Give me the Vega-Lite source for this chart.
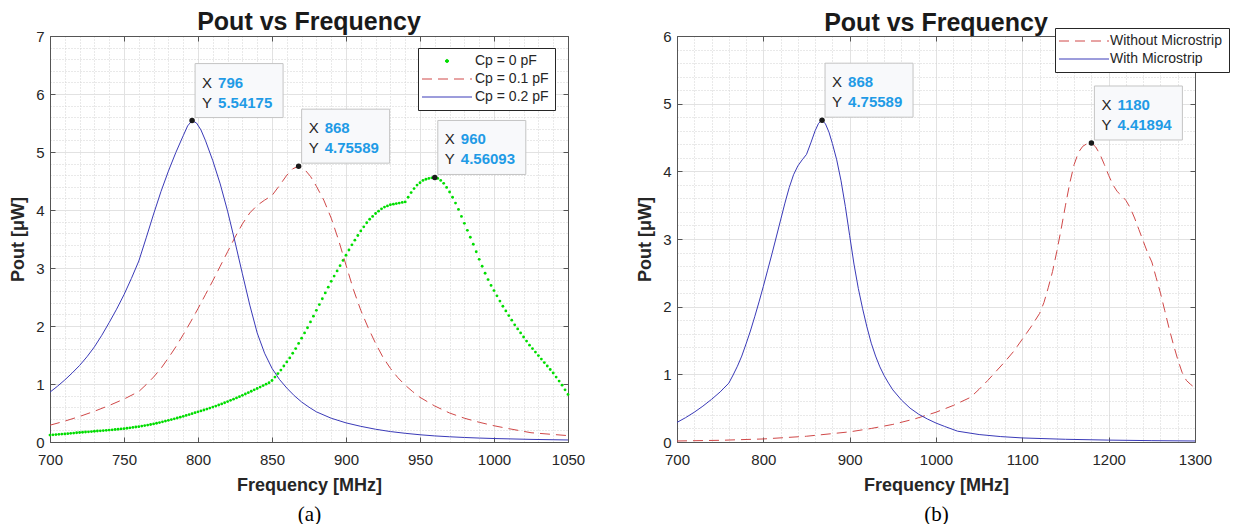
{
"$schema": "https://vega.github.io/schema/vega-lite/v6.json",
"background": "white",
"padding": {"left": 9, "top": 10, "right": 0, "bottom": 0},
"config": {"view": {"stroke": null}, "font": "Liberation Sans"},
"datasets": {
"a0": [{"f":700,"p":0.120},{"f":702,"p":0.124},{"f":704,"p":0.128},{"f":706,"p":0.132},{"f":708,"p":0.136},{"f":710,"p":0.140},{"f":712,"p":0.144},{"f":714,"p":0.149},{"f":716,"p":0.154},{"f":718,"p":0.159},{"f":720,"p":0.164},{"f":722,"p":0.168},{"f":724,"p":0.172},{"f":726,"p":0.176},{"f":728,"p":0.180},{"f":730,"p":0.185},{"f":732,"p":0.189},{"f":734,"p":0.193},{"f":736,"p":0.197},{"f":738,"p":0.201},{"f":740,"p":0.205},{"f":742,"p":0.210},{"f":744,"p":0.215},{"f":746,"p":0.220},{"f":748,"p":0.225},{"f":750,"p":0.230},{"f":752,"p":0.237},{"f":754,"p":0.244},{"f":756,"p":0.251},{"f":758,"p":0.258},{"f":760,"p":0.265},{"f":762,"p":0.274},{"f":764,"p":0.283},{"f":766,"p":0.292},{"f":768,"p":0.302},{"f":770,"p":0.312},{"f":772,"p":0.323},{"f":774,"p":0.335},{"f":776,"p":0.347},{"f":778,"p":0.360},{"f":780,"p":0.373},{"f":782,"p":0.386},{"f":784,"p":0.400},{"f":786,"p":0.414},{"f":788,"p":0.428},{"f":790,"p":0.443},{"f":792,"p":0.458},{"f":794,"p":0.473},{"f":796,"p":0.489},{"f":798,"p":0.505},{"f":800,"p":0.520},{"f":802,"p":0.536},{"f":804,"p":0.552},{"f":806,"p":0.568},{"f":808,"p":0.585},{"f":810,"p":0.602},{"f":812,"p":0.620},{"f":814,"p":0.638},{"f":816,"p":0.657},{"f":818,"p":0.677},{"f":820,"p":0.697},{"f":822,"p":0.718},{"f":824,"p":0.739},{"f":826,"p":0.760},{"f":828,"p":0.782},{"f":830,"p":0.805},{"f":832,"p":0.828},{"f":834,"p":0.851},{"f":836,"p":0.875},{"f":838,"p":0.899},{"f":840,"p":0.923},{"f":842,"p":0.947},{"f":844,"p":0.972},{"f":846,"p":0.997},{"f":848,"p":1.022},{"f":850,"p":1.060},{"f":852,"p":1.12},{"f":854,"p":1.18},{"f":856,"p":1.24},{"f":858,"p":1.31},{"f":860,"p":1.38},{"f":862,"p":1.45},{"f":864,"p":1.53},{"f":866,"p":1.61},{"f":868,"p":1.70},{"f":870,"p":1.79},{"f":872,"p":1.88},{"f":874,"p":1.97},{"f":876,"p":2.07},{"f":878,"p":2.17},{"f":880,"p":2.27},{"f":882,"p":2.37},{"f":884,"p":2.47},{"f":886,"p":2.57},{"f":888,"p":2.67},{"f":890,"p":2.77},{"f":892,"p":2.86},{"f":894,"p":2.95},{"f":896,"p":3.04},{"f":898,"p":3.13},{"f":900,"p":3.22},{"f":902,"p":3.31},{"f":904,"p":3.40},{"f":906,"p":3.48},{"f":908,"p":3.56},{"f":910,"p":3.64},{"f":912,"p":3.71},{"f":914,"p":3.78},{"f":916,"p":3.84},{"f":918,"p":3.89},{"f":920,"p":3.94},{"f":922,"p":3.98},{"f":924,"p":4.02},{"f":926,"p":4.05},{"f":928,"p":4.07},{"f":930,"p":4.09},{"f":932,"p":4.10},{"f":934,"p":4.11},{"f":936,"p":4.12},{"f":938,"p":4.13},{"f":940,"p":4.14},{"f":942,"p":4.22},{"f":944,"p":4.30},{"f":946,"p":4.37},{"f":948,"p":4.43},{"f":950,"p":4.47},{"f":952,"p":4.51},{"f":954,"p":4.53},{"f":956,"p":4.545},{"f":958,"p":4.555},{"f":960,"p":4.56093},{"f":962,"p":4.545},{"f":964,"p":4.51},{"f":966,"p":4.46},{"f":968,"p":4.39},{"f":970,"p":4.31},{"f":972,"p":4.22},{"f":974,"p":4.12},{"f":976,"p":4.01},{"f":978,"p":3.89},{"f":980,"p":3.77},{"f":982,"p":3.65},{"f":984,"p":3.53},{"f":986,"p":3.41},{"f":988,"p":3.28},{"f":990,"p":3.15},{"f":992,"p":3.03},{"f":994,"p":2.91},{"f":996,"p":2.80},{"f":998,"p":2.70},{"f":1000,"p":2.61},{"f":1002,"p":2.52},{"f":1004,"p":2.43},{"f":1006,"p":2.34},{"f":1008,"p":2.26},{"f":1010,"p":2.18},{"f":1012,"p":2.10},{"f":1014,"p":2.02},{"f":1016,"p":1.95},{"f":1018,"p":1.88},{"f":1020,"p":1.81},{"f":1022,"p":1.74},{"f":1024,"p":1.67},{"f":1026,"p":1.61},{"f":1028,"p":1.55},{"f":1030,"p":1.49},{"f":1032,"p":1.43},{"f":1034,"p":1.37},{"f":1036,"p":1.31},{"f":1038,"p":1.25},{"f":1040,"p":1.19},{"f":1042,"p":1.12},{"f":1044,"p":1.05},{"f":1046,"p":0.98},{"f":1048,"p":0.90},{"f":1050,"p":0.82}],
"a1": [{"f":700,"p":0.29},{"f":710,"p":0.36},{"f":720,"p":0.44},{"f":730,"p":0.53},{"f":740,"p":0.63},{"f":750,"p":0.74},{"f":760,"p":0.87},{"f":765,"p":0.99},{"f":770,"p":1.12},{"f":775,"p":1.27},{"f":780,"p":1.45},{"f":785,"p":1.64},{"f":790,"p":1.85},{"f":795,"p":2.07},{"f":800,"p":2.30},{"f":805,"p":2.54},{"f":810,"p":2.78},{"f":815,"p":3.03},{"f":820,"p":3.28},{"f":825,"p":3.53},{"f":830,"p":3.76},{"f":835,"p":3.95},{"f":840,"p":4.08},{"f":845,"p":4.17},{"f":850,"p":4.25},{"f":855,"p":4.42},{"f":860,"p":4.60},{"f":864,"p":4.71},{"f":868,"p":4.75589},{"f":872,"p":4.70},{"f":876,"p":4.58},{"f":880,"p":4.41},{"f":885,"p":4.17},{"f":890,"p":3.86},{"f":895,"p":3.48},{"f":900,"p":3.05},{"f":905,"p":2.63},{"f":910,"p":2.27},{"f":915,"p":1.97},{"f":920,"p":1.70},{"f":925,"p":1.46},{"f":930,"p":1.27},{"f":935,"p":1.11},{"f":940,"p":0.98},{"f":945,"p":0.87},{"f":950,"p":0.77},{"f":960,"p":0.62},{"f":970,"p":0.50},{"f":980,"p":0.41},{"f":990,"p":0.34},{"f":1000,"p":0.28},{"f":1010,"p":0.23},{"f":1025,"p":0.16},{"f":1050,"p":0.11}],
"a2": [{"f":700,"p":0.86},{"f":705,"p":0.96},{"f":710,"p":1.07},{"f":715,"p":1.19},{"f":720,"p":1.32},{"f":725,"p":1.47},{"f":730,"p":1.64},{"f":735,"p":1.84},{"f":740,"p":2.06},{"f":745,"p":2.29},{"f":750,"p":2.54},{"f":755,"p":2.82},{"f":760,"p":3.12},{"f":765,"p":3.52},{"f":770,"p":3.93},{"f":775,"p":4.32},{"f":780,"p":4.67},{"f":785,"p":4.99},{"f":790,"p":5.28},{"f":793,"p":5.45},{"f":796,"p":5.54175},{"f":799,"p":5.50},{"f":802,"p":5.38},{"f":805,"p":5.20},{"f":810,"p":4.85},{"f":815,"p":4.45},{"f":820,"p":3.98},{"f":825,"p":3.45},{"f":830,"p":2.90},{"f":835,"p":2.36},{"f":840,"p":1.88},{"f":845,"p":1.53},{"f":850,"p":1.27},{"f":855,"p":1.08},{"f":860,"p":0.93},{"f":865,"p":0.80},{"f":870,"p":0.69},{"f":875,"p":0.60},{"f":880,"p":0.52},{"f":890,"p":0.41},{"f":900,"p":0.33},{"f":910,"p":0.27},{"f":920,"p":0.22},{"f":930,"p":0.18},{"f":940,"p":0.15},{"f":950,"p":0.125},{"f":960,"p":0.105},{"f":970,"p":0.09},{"f":980,"p":0.078},{"f":990,"p":0.068},{"f":1000,"p":0.06},{"f":1025,"p":0.045},{"f":1050,"p":0.035}],
"b0": [{"f":700,"p":0.015},{"f":750,"p":0.025},{"f":800,"p":0.045},{"f":850,"p":0.085},{"f":900,"p":0.15},{"f":925,"p":0.20},{"f":950,"p":0.26},{"f":975,"p":0.34},{"f":1000,"p":0.44},{"f":1020,"p":0.54},{"f":1040,"p":0.66},{"f":1050,"p":0.78},{"f":1060,"p":0.91},{"f":1070,"p":1.05},{"f":1080,"p":1.19},{"f":1090,"p":1.34},{"f":1100,"p":1.52},{"f":1110,"p":1.70},{"f":1120,"p":1.90},{"f":1125,"p":2.06},{"f":1130,"p":2.28},{"f":1135,"p":2.52},{"f":1140,"p":2.82},{"f":1145,"p":3.15},{"f":1150,"p":3.50},{"f":1155,"p":3.83},{"f":1160,"p":4.10},{"f":1165,"p":4.28},{"f":1170,"p":4.37},{"f":1175,"p":4.41},{"f":1180,"p":4.41894},{"f":1185,"p":4.36},{"f":1190,"p":4.25},{"f":1195,"p":4.10},{"f":1200,"p":3.94},{"f":1205,"p":3.80},{"f":1210,"p":3.70},{"f":1215,"p":3.64},{"f":1220,"p":3.57},{"f":1225,"p":3.46},{"f":1230,"p":3.31},{"f":1235,"p":3.14},{"f":1240,"p":2.97},{"f":1245,"p":2.80},{"f":1250,"p":2.66},{"f":1255,"p":2.43},{"f":1260,"p":2.20},{"f":1265,"p":1.94},{"f":1270,"p":1.68},{"f":1275,"p":1.44},{"f":1280,"p":1.22},{"f":1285,"p":1.03},{"f":1290,"p":0.91},{"f":1295,"p":0.85},{"f":1300,"p":0.80}],
"b1": [{"f":700,"p":0.29},{"f":710,"p":0.36},{"f":720,"p":0.44},{"f":730,"p":0.53},{"f":740,"p":0.63},{"f":750,"p":0.74},{"f":760,"p":0.87},{"f":765,"p":0.99},{"f":770,"p":1.12},{"f":775,"p":1.27},{"f":780,"p":1.45},{"f":785,"p":1.64},{"f":790,"p":1.85},{"f":795,"p":2.07},{"f":800,"p":2.30},{"f":805,"p":2.54},{"f":810,"p":2.78},{"f":815,"p":3.03},{"f":820,"p":3.28},{"f":825,"p":3.53},{"f":830,"p":3.76},{"f":835,"p":3.95},{"f":840,"p":4.08},{"f":845,"p":4.17},{"f":850,"p":4.25},{"f":855,"p":4.42},{"f":860,"p":4.60},{"f":864,"p":4.71},{"f":868,"p":4.75589},{"f":872,"p":4.70},{"f":876,"p":4.58},{"f":880,"p":4.41},{"f":885,"p":4.17},{"f":890,"p":3.86},{"f":895,"p":3.48},{"f":900,"p":3.05},{"f":905,"p":2.63},{"f":910,"p":2.27},{"f":915,"p":1.97},{"f":920,"p":1.70},{"f":925,"p":1.46},{"f":930,"p":1.27},{"f":935,"p":1.11},{"f":940,"p":0.98},{"f":945,"p":0.87},{"f":950,"p":0.77},{"f":960,"p":0.62},{"f":970,"p":0.50},{"f":980,"p":0.41},{"f":990,"p":0.34},{"f":1000,"p":0.28},{"f":1010,"p":0.23},{"f":1025,"p":0.16},{"f":1050,"p":0.11},{"f":1075,"p":0.08},{"f":1100,"p":0.06},{"f":1150,"p":0.04},{"f":1200,"p":0.028},{"f":1250,"p":0.02},{"f":1300,"p":0.015}],
"tipsA": [{"f":796,"p":5.54175},{"f":868,"p":4.75589},{"f":960,"p":4.56093}],
"tipsB": [{"f":868,"p":4.75589},{"f":1180,"p":4.41894}]
},
"spacing": 51,
"resolve": {"scale": {"color": "independent"}},
"hconcat": [
{
"width": 518, "height": 406,
"title": {"text": "Pout vs Frequency", "fontSize": 25, "font": "Liberation Sans", "fontWeight": "bold", "color": "#1a1a1a", "offset": -6},
"resolve": {"axis": {"x": "independent", "y": "independent"}},
"layer": [
{"data": {"name": "tipsA"}, "mark": {"type": "point", "opacity": 0},
 "encoding": {
  "x": {"field": "f", "type": "quantitative", "scale": {"domain": [700, 1050], "nice": false, "zero": false},
   "axis": {"orient": "bottom", "values": [710,720,730,740,760,770,780,790,810,820,830,840,860,870,880,890,910,920,930,940,960,970,980,990,1010,1020,1030,1040], "grid": true, "gridDash": [1, 2], "gridColor": "#d2d2d2", "labels": false, "ticks": false, "domain": false, "title": "(a)", "titleFont": "Liberation Serif", "titleFontSize": 21, "titleFontWeight": "normal", "titleColor": "#000000", "titlePadding": 61}},
  "y": {"field": "p", "type": "quantitative", "scale": {"domain": [0, 7], "nice": false, "zero": false},
   "axis": {"orient": "left", "values": [0.2,0.4,0.6,0.8,1.2,1.4,1.6,1.8,2.2,2.4,2.6,2.8,3.2,3.4,3.6,3.8,4.2,4.4,4.6,4.8,5.2,5.4,5.6,5.8,6.2,6.4,6.6,6.8], "grid": true, "gridDash": [1, 2], "gridColor": "#d2d2d2", "labels": false, "ticks": false, "domain": false, "title": null}}
 }},
{"data": {"name": "tipsA"}, "mark": {"type": "point", "opacity": 0},
 "encoding": {
  "x": {"field": "f", "type": "quantitative", "scale": {"domain": [700, 1050], "nice": false, "zero": false},
   "axis": {"orient": "top", "values": [700,750,800,850,900,950,1000,1050], "grid": false, "labels": false, "ticks": true, "tickSize": -5, "tickColor": "#555555", "domain": true, "domainColor": "#555555", "title": null}},
  "y": {"field": "p", "type": "quantitative", "scale": {"domain": [0, 7], "nice": false, "zero": false},
   "axis": {"orient": "right", "values": [0,1,2,3,4,5,6,7], "grid": false, "labels": false, "ticks": true, "tickSize": -5, "tickColor": "#555555", "domain": true, "domainColor": "#555555", "title": null}}
 }},
{"data": {"name": "a0"}, "mark": {"type": "point", "filled": true, "size": 8, "opacity": 1, "color": "#00dd00"},
 "encoding": {
  "x": {"field": "f", "type": "quantitative", "scale": {"domain": [700, 1050], "nice": false, "zero": false}, "axis": null},
  "y": {"field": "p", "type": "quantitative", "scale": {"domain": [0, 7], "nice": false, "zero": false}, "axis": null}
 }},
{"data": {"name": "a1"}, "mark": {"type": "line", "color": "#d04848", "strokeWidth": 1, "strokeDash": [10, 6]},
 "encoding": {
  "x": {"field": "f", "type": "quantitative", "scale": {"domain": [700, 1050], "nice": false, "zero": false}, "axis": null},
  "y": {"field": "p", "type": "quantitative", "scale": {"domain": [0, 7], "nice": false, "zero": false}, "axis": null}
 }},
{"data": {"name": "a2"}, "mark": {"type": "line", "strokeWidth": 1},
 "encoding": {
  "x": {"field": "f", "type": "quantitative", "scale": {"domain": [700, 1050], "nice": false, "zero": false},
   "axis": {"orient": "bottom", "values": [700,750,800,850,900,950,1000,1050], "format": "d", "grid": true, "gridColor": "#e2e2e2", "domainColor": "#555555", "tickColor": "#555555", "tickSize": -5, "labelPadding": 15, "labelFlush": false, "labelFont": "Liberation Sans", "labelFontSize": 15, "labelColor": "#262626", "title": "Frequency [MHz]", "titleFont": "Liberation Sans", "titleFontSize": 18, "titleFontWeight": "bold", "titleColor": "#262626", "titlePadding": 9}},
  "y": {"field": "p", "type": "quantitative", "scale": {"domain": [0, 7], "nice": false, "zero": false},
   "axis": {"orient": "left", "values": [0,1,2,3,4,5,6,7], "grid": true, "gridColor": "#e2e2e2", "domainColor": "#555555", "tickColor": "#555555", "tickSize": -5, "labelPadding": 11, "labelFont": "Liberation Sans", "labelFontSize": 15, "labelColor": "#262626", "title": "Pout [μW]", "titleFont": "Liberation Sans", "titleFontSize": 18, "titleFontWeight": "bold", "titleColor": "#262626", "titlePadding": 8}},
  "color": {"datum": "Cp = 0.2 pF", "type": "nominal",
   "scale": {"domain": ["Cp = 0 pF", "Cp = 0.1 pF", "Cp = 0.2 pF"], "range": ["#00dd00", "#d04848", "#3a3ab8"]},
   "legend": {"orient": "none", "legendX": 368, "legendY": 12, "title": null, "padding": 6, "fillColor": "#ffffff", "strokeColor": "#262626",
    "labelFont": "Liberation Sans", "labelFontSize": 14, "labelColor": "#262626", "symbolSize": 4, "symbolOffset": 16, "labelOffset": 21, "rowPadding": 4, "symbolStrokeWidth": 1, "symbolOpacity": 1,
    "symbolType": {"expr": "datum.value === 'Cp = 0 pF' ? 'M-1.6,0A1.6,1.6 0 1,0 1.6,0A1.6,1.6 0 1,0 -1.6,0Z' : 'M-25,0H25'"},
    "symbolFillColor": {"expr": "datum.value === 'Cp = 0 pF' ? '#00dd00' : 'transparent'"},
    "symbolDash": {"expr": "datum.value === 'Cp = 0.1 pF' ? [10, 6] : [1, 0]"}
   }}
 }},
{"data": {"name": "tipsA"}, "mark": {"type": "point", "shape": "M3,-3H91V-57H3Z", "size": 4, "filled": true, "fill": "#f8f9fb", "stroke": "#c4c4c4", "strokeWidth": 1, "opacity": 1},
 "encoding": {
  "x": {"field": "f", "type": "quantitative", "scale": {"domain": [700, 1050], "nice": false, "zero": false}, "axis": null},
  "y": {"field": "p", "type": "quantitative", "scale": {"domain": [0, 7], "nice": false, "zero": false}, "axis": null}
 }},
{"data": {"name": "tipsA"}, "mark": {"type": "point", "filled": true, "size": 30, "color": "#1a1a1a", "opacity": 1},
 "encoding": {
  "x": {"field": "f", "type": "quantitative", "scale": {"domain": [700, 1050], "nice": false, "zero": false}, "axis": null},
  "y": {"field": "p", "type": "quantitative", "scale": {"domain": [0, 7], "nice": false, "zero": false}, "axis": null}
 }},
{"data": {"name": "tipsA"}, "mark": {"type": "text", "text": "X", "dx": 10, "dy": -38, "align": "left", "baseline": "middle", "font": "Liberation Sans", "fontSize": 15, "color": "#262626"},
 "encoding": {
  "x": {"field": "f", "type": "quantitative", "scale": {"domain": [700, 1050], "nice": false, "zero": false}, "axis": null},
  "y": {"field": "p", "type": "quantitative", "scale": {"domain": [0, 7], "nice": false, "zero": false}, "axis": null}
 }},
{"data": {"name": "tipsA"}, "mark": {"type": "text", "text": "Y", "dx": 10, "dy": -18, "align": "left", "baseline": "middle", "font": "Liberation Sans", "fontSize": 15, "color": "#262626"},
 "encoding": {
  "x": {"field": "f", "type": "quantitative", "scale": {"domain": [700, 1050], "nice": false, "zero": false}, "axis": null},
  "y": {"field": "p", "type": "quantitative", "scale": {"domain": [0, 7], "nice": false, "zero": false}, "axis": null}
 }},
{"data": {"name": "tipsA"}, "mark": {"type": "text", "dx": 26, "dy": -38, "align": "left", "baseline": "middle", "font": "Liberation Sans", "fontSize": 15, "fontWeight": "bold", "color": "#1f9be6"},
 "encoding": {
  "x": {"field": "f", "type": "quantitative", "scale": {"domain": [700, 1050], "nice": false, "zero": false}, "axis": null},
  "y": {"field": "p", "type": "quantitative", "scale": {"domain": [0, 7], "nice": false, "zero": false}, "axis": null},
  "text": {"field": "f", "type": "nominal"}
 }},
{"data": {"name": "tipsA"}, "mark": {"type": "text", "dx": 26, "dy": -18, "align": "left", "baseline": "middle", "font": "Liberation Sans", "fontSize": 15, "fontWeight": "bold", "color": "#1f9be6"},
 "encoding": {
  "x": {"field": "f", "type": "quantitative", "scale": {"domain": [700, 1050], "nice": false, "zero": false}, "axis": null},
  "y": {"field": "p", "type": "quantitative", "scale": {"domain": [0, 7], "nice": false, "zero": false}, "axis": null},
  "text": {"field": "p", "type": "nominal"}
 }}
]
},
{
"width": 518, "height": 406,
"title": {"text": "Pout vs Frequency", "fontSize": 25, "font": "Liberation Sans", "fontWeight": "bold", "color": "#1a1a1a", "offset": -8},
"resolve": {"axis": {"x": "independent", "y": "independent"}},
"layer": [
{"data": {"name": "tipsB"}, "mark": {"type": "point", "opacity": 0},
 "encoding": {
  "x": {"field": "f", "type": "quantitative", "scale": {"domain": [700, 1300], "nice": false, "zero": false},
   "axis": {"orient": "bottom", "values": [720,740,760,780,820,840,860,880,920,940,960,980,1020,1040,1060,1080,1120,1140,1160,1180,1220,1240,1260,1280], "grid": true, "gridDash": [1, 2], "gridColor": "#d2d2d2", "labels": false, "ticks": false, "domain": false, "title": "(b)", "titleFont": "Liberation Serif", "titleFontSize": 21, "titleFontWeight": "normal", "titleColor": "#000000", "titlePadding": 61}},
  "y": {"field": "p", "type": "quantitative", "scale": {"domain": [0, 6], "nice": false, "zero": false},
   "axis": {"orient": "left", "values": [0.2,0.4,0.6,0.8,1.2,1.4,1.6,1.8,2.2,2.4,2.6,2.8,3.2,3.4,3.6,3.8,4.2,4.4,4.6,4.8,5.2,5.4,5.6,5.8], "grid": true, "gridDash": [1, 2], "gridColor": "#d2d2d2", "labels": false, "ticks": false, "domain": false, "title": null}}
 }},
{"data": {"name": "tipsB"}, "mark": {"type": "point", "opacity": 0},
 "encoding": {
  "x": {"field": "f", "type": "quantitative", "scale": {"domain": [700, 1300], "nice": false, "zero": false},
   "axis": {"orient": "top", "values": [700,800,900,1000,1100,1200,1300], "grid": false, "labels": false, "ticks": true, "tickSize": -5, "tickColor": "#555555", "domain": true, "domainColor": "#555555", "title": null}},
  "y": {"field": "p", "type": "quantitative", "scale": {"domain": [0, 6], "nice": false, "zero": false},
   "axis": {"orient": "right", "values": [0,1,2,3,4,5,6], "grid": false, "labels": false, "ticks": true, "tickSize": -5, "tickColor": "#555555", "domain": true, "domainColor": "#555555", "title": null}}
 }},
{"data": {"name": "b0"}, "mark": {"type": "line", "color": "#d04848", "strokeWidth": 1, "strokeDash": [10, 6]},
 "encoding": {
  "x": {"field": "f", "type": "quantitative", "scale": {"domain": [700, 1300], "nice": false, "zero": false}, "axis": null},
  "y": {"field": "p", "type": "quantitative", "scale": {"domain": [0, 6], "nice": false, "zero": false}, "axis": null}
 }},
{"data": {"name": "b1"}, "mark": {"type": "line", "strokeWidth": 1},
 "encoding": {
  "x": {"field": "f", "type": "quantitative", "scale": {"domain": [700, 1300], "nice": false, "zero": false},
   "axis": {"orient": "bottom", "values": [700,800,900,1000,1100,1200,1300], "format": "d", "grid": true, "gridColor": "#e2e2e2", "domainColor": "#555555", "tickColor": "#555555", "tickSize": -5, "labelPadding": 15, "labelFlush": false, "labelFont": "Liberation Sans", "labelFontSize": 15, "labelColor": "#262626", "title": "Frequency [MHz]", "titleFont": "Liberation Sans", "titleFontSize": 18, "titleFontWeight": "bold", "titleColor": "#262626", "titlePadding": 9}},
  "y": {"field": "p", "type": "quantitative", "scale": {"domain": [0, 6], "nice": false, "zero": false},
   "axis": {"orient": "left", "values": [0,1,2,3,4,5,6], "grid": true, "gridColor": "#e2e2e2", "domainColor": "#555555", "tickColor": "#555555", "tickSize": -5, "labelPadding": 11, "labelFont": "Liberation Sans", "labelFontSize": 15, "labelColor": "#262626", "title": "Pout [μW]", "titleFont": "Liberation Sans", "titleFontSize": 18, "titleFontWeight": "bold", "titleColor": "#262626", "titlePadding": 8}},
  "color": {"datum": "With Microstrip", "type": "nominal",
   "scale": {"domain": ["Without Microstrip", "With Microstrip"], "range": ["#d04848", "#3a3ab8"]},
   "legend": {"orient": "none", "legendX": 378, "legendY": -8, "title": null, "padding": 6, "fillColor": "#ffffff", "strokeColor": "#262626",
    "labelFont": "Liberation Sans", "labelFontSize": 14, "labelColor": "#262626", "symbolSize": 4, "symbolOffset": 16, "labelOffset": 19, "rowPadding": 4, "symbolStrokeWidth": 1, "symbolOpacity": 1,
    "symbolType": "M-25,0H25",
    "symbolFillColor": "transparent",
    "symbolDash": {"expr": "datum.value === 'Without Microstrip' ? [10, 6] : [1, 0]"}
   }}
 }},
{"data": {"name": "tipsB"}, "mark": {"type": "point", "shape": "M3,-3H91V-57H3Z", "size": 4, "filled": true, "fill": "#f8f9fb", "stroke": "#c4c4c4", "strokeWidth": 1, "opacity": 1},
 "encoding": {
  "x": {"field": "f", "type": "quantitative", "scale": {"domain": [700, 1300], "nice": false, "zero": false}, "axis": null},
  "y": {"field": "p", "type": "quantitative", "scale": {"domain": [0, 6], "nice": false, "zero": false}, "axis": null}
 }},
{"data": {"name": "tipsB"}, "mark": {"type": "point", "filled": true, "size": 30, "color": "#1a1a1a", "opacity": 1},
 "encoding": {
  "x": {"field": "f", "type": "quantitative", "scale": {"domain": [700, 1300], "nice": false, "zero": false}, "axis": null},
  "y": {"field": "p", "type": "quantitative", "scale": {"domain": [0, 6], "nice": false, "zero": false}, "axis": null}
 }},
{"data": {"name": "tipsB"}, "mark": {"type": "text", "text": "X", "dx": 10, "dy": -38, "align": "left", "baseline": "middle", "font": "Liberation Sans", "fontSize": 15, "color": "#262626"},
 "encoding": {
  "x": {"field": "f", "type": "quantitative", "scale": {"domain": [700, 1300], "nice": false, "zero": false}, "axis": null},
  "y": {"field": "p", "type": "quantitative", "scale": {"domain": [0, 6], "nice": false, "zero": false}, "axis": null}
 }},
{"data": {"name": "tipsB"}, "mark": {"type": "text", "text": "Y", "dx": 10, "dy": -18, "align": "left", "baseline": "middle", "font": "Liberation Sans", "fontSize": 15, "color": "#262626"},
 "encoding": {
  "x": {"field": "f", "type": "quantitative", "scale": {"domain": [700, 1300], "nice": false, "zero": false}, "axis": null},
  "y": {"field": "p", "type": "quantitative", "scale": {"domain": [0, 6], "nice": false, "zero": false}, "axis": null}
 }},
{"data": {"name": "tipsB"}, "mark": {"type": "text", "dx": 26, "dy": -38, "align": "left", "baseline": "middle", "font": "Liberation Sans", "fontSize": 15, "fontWeight": "bold", "color": "#1f9be6"},
 "encoding": {
  "x": {"field": "f", "type": "quantitative", "scale": {"domain": [700, 1300], "nice": false, "zero": false}, "axis": null},
  "y": {"field": "p", "type": "quantitative", "scale": {"domain": [0, 6], "nice": false, "zero": false}, "axis": null},
  "text": {"field": "f", "type": "nominal"}
 }},
{"data": {"name": "tipsB"}, "mark": {"type": "text", "dx": 26, "dy": -18, "align": "left", "baseline": "middle", "font": "Liberation Sans", "fontSize": 15, "fontWeight": "bold", "color": "#1f9be6"},
 "encoding": {
  "x": {"field": "f", "type": "quantitative", "scale": {"domain": [700, 1300], "nice": false, "zero": false}, "axis": null},
  "y": {"field": "p", "type": "quantitative", "scale": {"domain": [0, 6], "nice": false, "zero": false}, "axis": null},
  "text": {"field": "p", "type": "nominal"}
 }}
]
}
]
}
